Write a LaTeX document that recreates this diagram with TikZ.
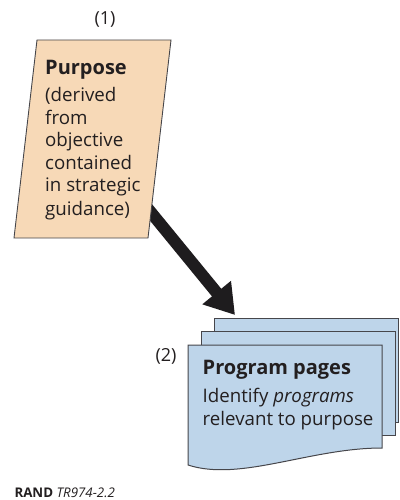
\documentclass[tikz,border=0pt]{standalone}
\usepackage{fontspec}
\setmainfont{Open Sans}
\usetikzlibrary{arrows.meta,calc}
\definecolor{peach}{RGB}{247,217,183}
\definecolor{pageblue}{RGB}{190,213,234}
\definecolor{edgegray}{RGB}{70,70,75}
\definecolor{arrowblack}{RGB}{30,28,30}
\definecolor{inkgray}{RGB}{35,31,32}
\tikzset{
  sheet/.style={draw=edgegray, line width=1pt, fill=pageblue},
  card/.style={draw=edgegray, line width=0.9pt, fill=peach},
  bodytext/.style={inner sep=0pt, anchor=base west, align=left, text=inkgray,
    font=\fontsize{18.7}{22.5}\selectfont},
  numlabel/.style={inner sep=0pt, text=inkgray, font=\fontsize{18}{20}\selectfont},
  bigarrow/.style={line width=12pt, color=arrowblack,
    -{Triangle[length=29pt,width=35pt]}}
}
\newcommand{\titlesize}{\fontsize{20}{22.5}\selectfont\bfseries}
\begin{document}
\begin{tikzpicture}[x=1pt,y=-1pt]
\useasboundingbox (0,0) rectangle (399,500);

% flow arrow, tail tucked under the purpose card
\coordinate (tail) at (140,199);
\coordinate (tip) at (235,315);
\draw[bigarrow] (tail) -- (tip);

% purpose card (parallelogram)
\coordinate (p1) at (37,40);
\coordinate (p2) at (171,40);
\coordinate (p3) at (148,238);
\coordinate (p4) at (14,238);
\draw[card] (p1) -- (p2) -- (p3) -- (p4) -- cycle;
\node[numlabel] (n1) at (105,20) {(1)};
% the node's base is the baseline of its last line
\node[bodytext] (purpose) at (45,215)
  {{\titlesize Purpose}\\[5pt](derived\\from\\objective\\contained\\in strategic\\[1pt]guidance)};

% stack of program pages
\draw[sheet] (214,318) rectangle (398.5,422);
\draw[sheet] (201,331) rectangle (395,435);
\coordinate (f1) at (188,345);
\coordinate (f2) at (382,345);
\coordinate (f3) at (382,448);
\coordinate (f4) at (188,465);
\draw[sheet] (f1) -- (f2) -- (f3)
  .. controls (310,448) and (240,482) .. (f4) -- cycle;
\node[numlabel] (n2) at (166,356) {(2)};
\node[bodytext] (pages) at (202.5,425)
  {{\titlesize Program pages}\\[5.5pt]Identify \textit{programs}\\relevant to purpose};

% credit line
\node[inner sep=0pt, anchor=base west, text=inkgray, font=\fontsize{13.3}{15}\selectfont] (credit) at (14.3,497)
  {\textbf{RAND} \textit{TR974-2.2}};
\end{tikzpicture}
\end{document}
